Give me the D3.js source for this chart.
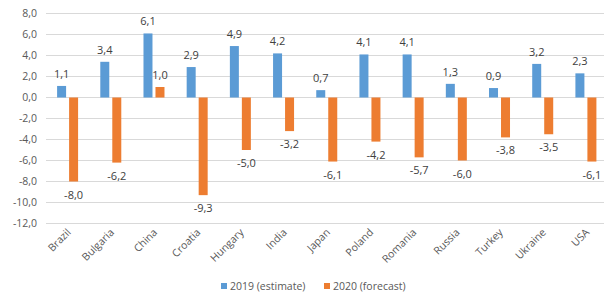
<!DOCTYPE html>
<html><head><meta charset="utf-8">
<script src="https://cdn.jsdelivr.net/npm/d3@7"></script>
<style>body{margin:0;background:#fff;} text{font-family:"Open Sans","Liberation Sans",sans-serif;}</style>
</head><body>
<svg id="c" width="604" height="298"></svg>
<script>
const categories = ["Brazil","Bulgaria","China","Croatia","Hungary","India","Japan","Poland","Romania","Russia","Turkey","Ukraine","USA"];
const series2019 = [1.1,3.4,6.1,2.9,4.9,4.2,0.7,4.1,4.1,1.3,0.9,3.2,2.3];
const series2020 = [-8.0,-6.2,1.0,-9.3,-5.0,-3.2,-6.1,-4.2,-5.7,-6.0,-3.8,-3.5,-6.1];
const yTicks = [8,6,4,2,0,-2,-4,-6,-8,-10,-12];
const seriesNames = ["2019 (estimate)","2020 (forecast)"];
const colors = ["#5B9BD5","#ED7D31"];

const svg = d3.select("#c");
const fmt = v => d3.format(".1f")(v).replace(".", ",").replace("−","-");
const x = d3.scaleBand().domain(categories).range([46, 607.5]);
const sub = d3.scaleBand().domain([0,1]).range([0, x.bandwidth()]).paddingInner(0.25).paddingOuter(0.925);
const y = d3.scaleLinear().domain([-12, 8]).range([223.5, 13.5]);

// grid
svg.append("g").selectAll("line").data(yTicks).join("line")
  .attr("x1", 46).attr("x2", 604).attr("y1", d=>y(d)).attr("y2", d=>y(d))
  .attr("stroke", "#D9D9D9").attr("stroke-width", 1);

// y labels
svg.append("g").selectAll("text").data(yTicks).join("text")
  .attr("x", 37).attr("y", d=>y(d)).attr("dy", "0.35em").attr("text-anchor","end")
  .attr("font-size", 10.5).attr("fill", "#595959").text(d=>fmt(d));

const data = categories.map((c,i)=>({c, v:[series2019[i], series2020[i]]}));
const groups = svg.append("g").selectAll("g").data(data).join("g")
  .attr("transform", d=>`translate(${x(d.c)},0)`);
groups.selectAll("rect").data(d=>d.v.map((v,k)=>({v,k}))).join("rect")
  .attr("x", d=>sub(d.k)).attr("width", sub.bandwidth())
  .attr("y", d=>y(Math.max(0,d.v))).attr("height", d=>Math.abs(y(d.v)-y(0)))
  .attr("fill", d=>colors[d.k]);
groups.selectAll("text.lab").data(d=>d.v.map((v,k)=>({v,k}))).join("text")
  .attr("class","lab")
  .attr("x", d=>sub(d.k)+sub.bandwidth()/2)
  .attr("y", d=> d.v>=0 ? y(d.v)-8 : y(d.v)+17)
  .attr("text-anchor","middle").attr("font-size", 11).attr("fill","#404040")
  .text(d=>fmt(d.v));

// x labels
svg.append("g").selectAll("text").data(categories).join("text")
  .attr("transform", d=>`translate(${x(d)+x.bandwidth()/2+4},${233}) rotate(-45)`)
  .attr("text-anchor","end").attr("font-size", 10.5).attr("fill","#595959").text(d=>d);

// legend
const leg = svg.append("g");
const lx = [221, 324];
seriesNames.forEach((n,k)=>{
  leg.append("rect").attr("x", lx[k]).attr("y", 283).attr("width", 6).attr("height", 6).attr("fill", colors[k]);
  leg.append("text").attr("x", lx[k]+9).attr("y", 286).attr("dy","0.35em").attr("font-size",10.5).attr("fill","#595959").text(n);
});
</script>
</body></html>
